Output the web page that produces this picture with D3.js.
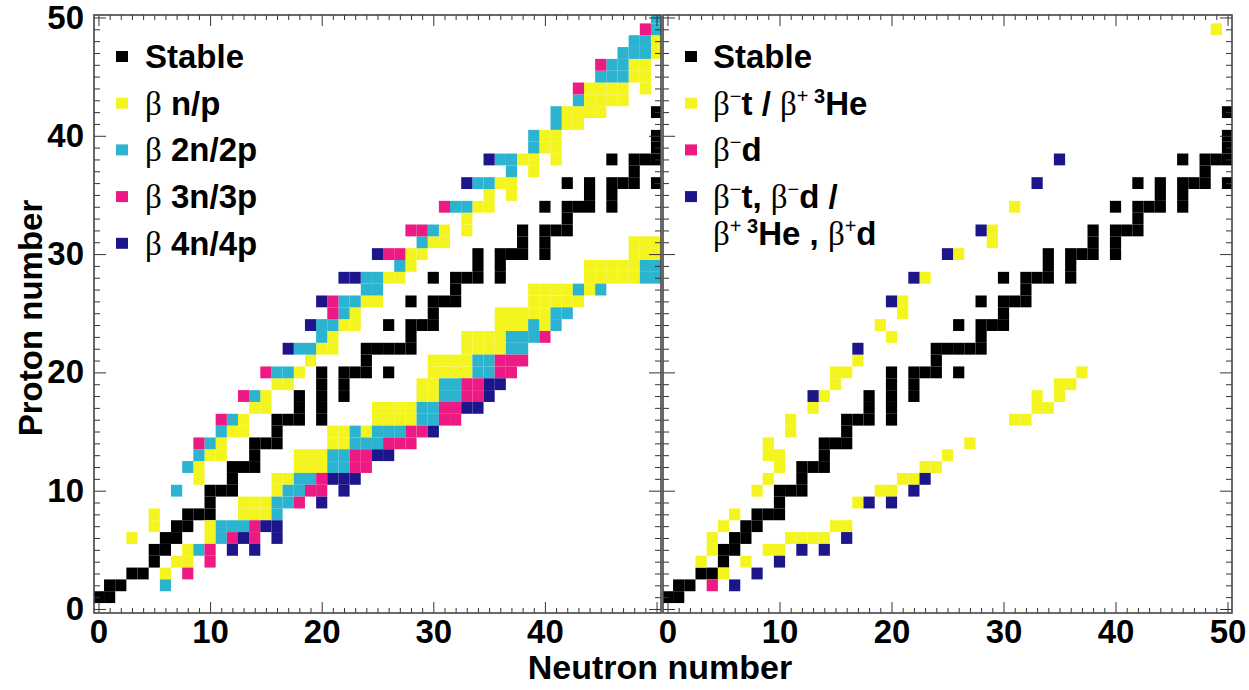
<!DOCTYPE html>
<html><head><meta charset="utf-8">
<script src="https://cdn.jsdelivr.net/npm/d3@7/dist/d3.min.js"></script>
<style>
html,body{margin:0;padding:0;background:#fff;}
svg{display:block;}
</style></head><body>
<svg id="chart" width="1249" height="690"></svg>
<script>
// ---------- DATA: cells as [N, Z] ----------
const stable = [[0,1],[1,1],[1,2],[2,2],[3,3],[4,3],[5,4],[5,5],[6,5],[6,6],[7,6],[7,7],[8,7],
 [8,8],[9,8],[10,8],[10,9],[10,10],[11,10],[12,10],[12,11],[12,12],[13,12],[14,12],[14,13],
 [14,14],[15,14],[16,14],[16,15],[16,16],[17,16],[18,16],[20,16],[18,17],[20,17],[18,18],[20,18],[22,18],
 [20,19],[22,19],[20,20],[22,20],[23,20],[24,20],[26,20],[24,21],[24,22],[25,22],[26,22],[27,22],[28,22],
 [28,23],[26,24],[28,24],[29,24],[30,24],[30,25],[28,26],[30,26],[31,26],[32,26],[32,27],
 [30,28],[32,28],[33,28],[34,28],[36,28],[34,29],[36,29],[34,30],[36,30],[37,30],[38,30],[40,30],
 [38,31],[40,31],[38,32],[40,32],[41,32],[42,32],[42,33],[40,34],[42,34],[43,34],[44,34],[46,34],
 [44,35],[46,35],[42,36],[44,36],[46,36],[47,36],[48,36],[50,36],[48,37],[46,38],[48,38],[49,38],[50,38],
 [50,39],[50,40],[50,42]];

// Left panel: beta-delayed nucleon emission
const bnp = [[3,6],[5,7],[5,8],[9,11],[9,12],[10,13],[11,13],[11,14],[12,15],[13,15],[13,16],[14,17],[15,17],[15,18],
 [16,19],[17,19],[18,20],[19,21],[20,22],[21,22],[21,23],[22,24],[23,24],[23,25],[24,26],[25,26],[26,28],[27,28],
 [28,29],[28,30],[29,30],[30,31],[31,31],[31,32],[33,32],[33,33],[34,34],[35,34],[35,35],[37,35],[36,36],[37,36],
 [39,37],[38,38],[39,38],[41,38],[40,39],[41,39],[40,40],[41,40],[42,41],[43,41],[42,42],[43,42],[44,42],[45,42],
 [44,43],[45,43],[46,43],[47,43],[44,44],[45,44],[46,44],[47,44],[49,44],[48,45],[49,45],[48,46],[49,46],[50,47],[50,48],
 [6,3],[7,4],[8,4],[8,5],[10,6],[10,7],[13,8],[14,8],[15,8],[13,9],[14,9],[15,9],[16,10],[16,11],[17,11],
 [18,12],[19,12],[20,12],[18,13],[19,13],[20,13],[21,14],[22,14],[21,15],[22,15],[24,15],
 [25,16],[26,16],[27,16],[28,16],[25,17],[26,17],[27,17],[28,17],[29,18],[30,18],[29,19],[30,19],
 [30,20],[31,20],[32,20],[33,20],[30,21],[31,21],[32,21],[33,21],[33,22],[34,22],[35,22],[36,22],
 [33,23],[34,23],[35,23],[36,23],[36,24],[37,24],[38,24],[40,24],[36,25],[37,25],[38,25],[39,25],[40,25],
 [39,26],[40,26],[41,26],[42,26],[43,26],[39,27],[40,27],[41,27],[42,27],[44,27],
 [44,28],[45,28],[46,28],[47,28],[48,28],[44,29],[45,29],[46,29],[47,29],[48,29],
 [48,30],[49,30],[50,30],[48,31],[49,31],[50,31]];
const b2np = [[7,10],[8,12],[9,13],[10,14],[11,15],[12,16],[14,18],[16,20],[17,20],[18,22],[19,22],[20,23],
 [20,24],[21,24],[22,25],[22,26],[23,26],[24,27],[25,27],[24,28],[25,28],[27,29],[29,31],[30,32],[32,34],[33,34],
 [34,36],[35,36],[37,37],[36,38],[37,38],[39,39],[39,40],[41,41],[41,42],[43,43],[45,45],[46,45],[47,45],
 [46,46],[47,46],[47,47],[48,47],[49,47],[48,48],[49,48],[50,49],[50,50],
 [6,2],[9,5],[11,6],[11,7],[12,7],[13,7],[16,8],[16,9],[17,9],[17,10],[18,10],[18,11],[19,11],
 [21,12],[22,12],[21,13],[22,13],[23,14],[24,14],[25,14],[23,15],[25,15],[26,15],[27,15],
 [29,16],[30,16],[29,17],[30,17],[31,18],[32,18],[31,19],[32,19],[34,20],[35,20],[34,21],[35,21],
 [37,22],[38,22],[37,23],[38,23],[39,23],[39,24],[41,24],[41,25],[42,25],[43,27],[45,27],
 [49,28],[50,28],[49,29],[50,29]];
const b3np = [[9,14],[11,16],[13,18],[15,20],[21,25],[21,26],[26,30],[27,30],[28,32],[29,32],[31,34],[43,44],[45,46],[49,49],
 [8,3],[10,4],[10,5],[12,6],[14,6],[14,7],[18,9],[19,10],[20,10],[20,11],[23,12],[24,12],[23,13],[24,13],
 [26,14],[27,14],[28,14],[28,15],[29,15],[31,16],[32,16],[31,17],[32,17],[33,18],[34,18],[33,19],[34,19],
 [36,20],[37,20],[36,21],[37,21],[38,21],[40,23]];
const b4np = [[17,22],[19,24],[20,26],[22,28],[23,28],[25,30],[33,36],[35,38],
 [12,5],[14,5],[13,6],[16,6],[15,7],[16,7],[20,9],[22,10],[21,11],[22,11],[23,11],[25,13],[26,13],[30,15],
 [33,17],[34,17],[35,18],[35,19],[36,19]];

// Right panel: beta-delayed light-ion emission
const bt3He = [[3,4],[4,5],[4,6],[5,7],[6,8],[8,10],[9,11],[10,12],[10,13],[9,13],[9,14],[11,15],[11,16],[13,17],
 [14,18],[15,19],[15,20],[16,20],[17,21],[19,24],[20,23],[21,25],[21,26],[23,28],[26,30],[29,31],[29,32],[31,34],[49,49],
 [5,3],[7,4],[9,5],[10,5],[11,6],[12,6],[13,6],[14,6],[15,7],[16,7],[17,9],[19,10],[20,10],[21,11],[22,11],
 [23,12],[24,12],[25,13],[27,14],[31,16],[32,16],[33,17],[34,17],[33,18],[35,18],[35,19],[36,19],[37,20]];
const bd = [[4,2]];
const bmulti = [[6,2],[8,3],[10,4],[12,5],[14,5],[16,6],[18,9],[20,9],[22,10],[23,11],
 [13,18],[17,22],[20,26],[22,28],[25,30],[28,32],[33,36],[35,38]];

const xLabelsLeft = [0,10,20,30,40];
const xLabelsRight = [0,10,20,30,40,50];
const yLabels = [0,10,20,30,40,50];

const COL = {stable:"#000000", yellow:"#f4f41e", cyan:"#2bb3d0", magenta:"#ec1a82", navy:"#1c168a"};

// ---------- DRAWING ----------
const svg = d3.select("#chart");
const FONT = '"Liberation Sans", Arial, Helvetica, sans-serif';
const SERIF = '"Liberation Serif", "Times New Roman", serif';
const Y0 = 15, Y1 = 613;
const ys = d3.scaleLinear().domain([-0.34, 50.21]).range([Y1, Y0]);

const panels = [
  {x0:94, x1:661, xLabels:xLabelsLeft, yLab:true,
   layers:[[stable,COL.stable],[bnp,COL.yellow],[b2np,COL.cyan],[b3np,COL.magenta],[b4np,COL.navy]]},
  {x0:663, x1:1232, xLabels:xLabelsRight, yLab:false,
   layers:[[stable,COL.stable],[bt3He,COL.yellow],[bd,COL.magenta],[bmulti,COL.navy]]}
];

function styleAxis(g){
  g.select(".domain").remove();
  g.selectAll(".tick line").attr("stroke","#333").attr("stroke-width",1);
  g.attr("font-family",FONT).attr("font-size",33).attr("font-weight","bold");
  g.selectAll(".tick text").attr("fill","#000");
}

panels.forEach((p,i)=>{
  const xs = d3.scaleLinear().domain([-0.4,50.4]).range([p.x0,p.x1]);
  const cid = "clip"+i;
  svg.append("clipPath").attr("id",cid).append("rect")
    .attr("x",p.x0).attr("y",Y0).attr("width",p.x1-p.x0).attr("height",Y1-Y0);
  const g = svg.append("g").attr("clip-path",`url(#${cid})`);
  p.layers.forEach(([data,color])=>{
    g.selectAll(null).data(data).enter().append("rect")
      .attr("x",d=>xs(d[0]-0.5)).attr("y",d=>ys(d[1]+0.5))
      .attr("width",d=>xs(d[0]+0.5)-xs(d[0]-0.5))
      .attr("height",d=>ys(d[1]-0.5)-ys(d[1]+0.5))
      .attr("fill",color);
  });
  const all = d3.range(0,51);
  svg.append("g").attr("transform",`translate(0,${Y1})`)
    .call(d3.axisBottom(xs).tickValues(all.filter(v=>v%10)).tickSize(-5).tickFormat("")).call(styleAxis);
  svg.append("g").attr("transform",`translate(0,${Y1})`)
    .call(d3.axisBottom(xs).tickValues(p.xLabels).tickSize(-11).tickPadding(7).tickFormat(d3.format("d"))).call(styleAxis);
  if(i===0){
    svg.append("g").attr("transform",`translate(0,${Y1})`)
      .call(d3.axisBottom(xs).tickValues([50]).tickSize(-11).tickFormat("")).call(styleAxis);
  }
  svg.append("g").attr("transform",`translate(0,${Y0})`)
    .call(d3.axisTop(xs).tickValues(all.filter(v=>v%10)).tickSize(-5).tickFormat("")).call(styleAxis);
  svg.append("g").attr("transform",`translate(0,${Y0})`)
    .call(d3.axisTop(xs).tickValues(d3.range(0,51,10)).tickSize(-11).tickFormat("")).call(styleAxis);
  svg.append("g").attr("transform",`translate(${p.x0},0)`)
    .call(d3.axisLeft(ys).tickValues(all.filter(v=>v%10)).tickSize(-6).tickFormat("")).call(styleAxis);
  svg.append("g").attr("transform",`translate(${p.x0},0)`)
    .call(d3.axisLeft(ys).tickValues(yLabels).tickSize(-12).tickPadding(10)
      .tickFormat(p.yLab ? d3.format("d") : "")).call(styleAxis);
  svg.append("g").attr("transform",`translate(${p.x1},0)`)
    .call(d3.axisRight(ys).tickValues(all.filter(v=>v%10)).tickSize(-6).tickFormat("")).call(styleAxis);
  svg.append("g").attr("transform",`translate(${p.x1},0)`)
    .call(d3.axisRight(ys).tickValues(yLabels).tickSize(-12).tickFormat("")).call(styleAxis);
  svg.append("rect").attr("x",p.x0).attr("y",Y0).attr("width",p.x1-p.x0).attr("height",Y1-Y0)
    .attr("fill","none").attr("stroke","#444").attr("stroke-width",1.6);
});

svg.append("text").attr("x",660).attr("y",679).attr("text-anchor","middle")
  .attr("font-family",FONT).attr("font-weight","bold").attr("font-size",34).text("Neutron number");
svg.append("text").attr("transform","translate(42,318) rotate(-90)").attr("text-anchor","middle")
  .attr("font-family",FONT).attr("font-weight","bold").attr("font-size",33).text("Proton number");

const FS = 33, SUP = 20;
function richText(x, y, pieces){
  const t = svg.append("text").attr("x",x).attr("y",y).attr("font-size",FS);
  let shifted = 0;
  pieces.forEach(pc=>{
    const ts = t.append("tspan").text(pc.t);
    const want = pc.sup ? -12 : 0;
    ts.attr("dy", want - shifted); shifted = want;
    ts.attr("font-family", pc.serif ? SERIF : FONT)
      .attr("font-weight", pc.serif ? "normal" : "bold")
      .attr("font-size", pc.sup ? SUP : FS);
    if(pc.sup && !pc.bold) ts.attr("font-weight","normal");
  });
  return t;
}
function square(x, y, color){
  svg.append("rect").attr("x",x).attr("y",y).attr("width",12).attr("height",11).attr("fill",color);
}
const legendLeft = [
  {c:COL.stable, pieces:[{t:"Stable"}]},
  {c:COL.yellow, pieces:[{t:"β",serif:true},{t:" n/p"}]},
  {c:COL.cyan, pieces:[{t:"β",serif:true},{t:" 2n/2p"}]},
  {c:COL.magenta, pieces:[{t:"β",serif:true},{t:" 3n/3p"}]},
  {c:COL.navy, pieces:[{t:"β",serif:true},{t:" 4n/4p"}]}
];
legendLeft.forEach((e,i)=>{
  const base = 68 + i*46.7;
  square(116, base-17, e.c);
  richText(145, base, e.pieces);
});
const legendRight = [
  {c:COL.stable, lines:[[{t:"Stable"}]]},
  {c:COL.yellow, lines:[[{t:"β",serif:true},{t:"−",sup:true},{t:"t / "},{t:"β",serif:true},{t:"+ ",sup:true},{t:"3",sup:true,bold:true},{t:"He"}]]},
  {c:COL.magenta, lines:[[{t:"β",serif:true},{t:"−",sup:true},{t:"d"}]]},
  {c:COL.navy, lines:[[{t:"β",serif:true},{t:"−",sup:true},{t:"t, "},{t:"β",serif:true},{t:"−",sup:true},{t:"d /"}],
                      [{t:"β",serif:true},{t:"+ ",sup:true},{t:"3",sup:true,bold:true},{t:"He , "},{t:"β",serif:true},{t:"+",sup:true},{t:"d"}]]}
];
legendRight.forEach((e,i)=>{
  const base = 68 + i*46.7;
  square(685, base-17, e.c);
  e.lines.forEach((ln,j)=> richText(713, base + j*37, ln));
});
</script></body></html>
